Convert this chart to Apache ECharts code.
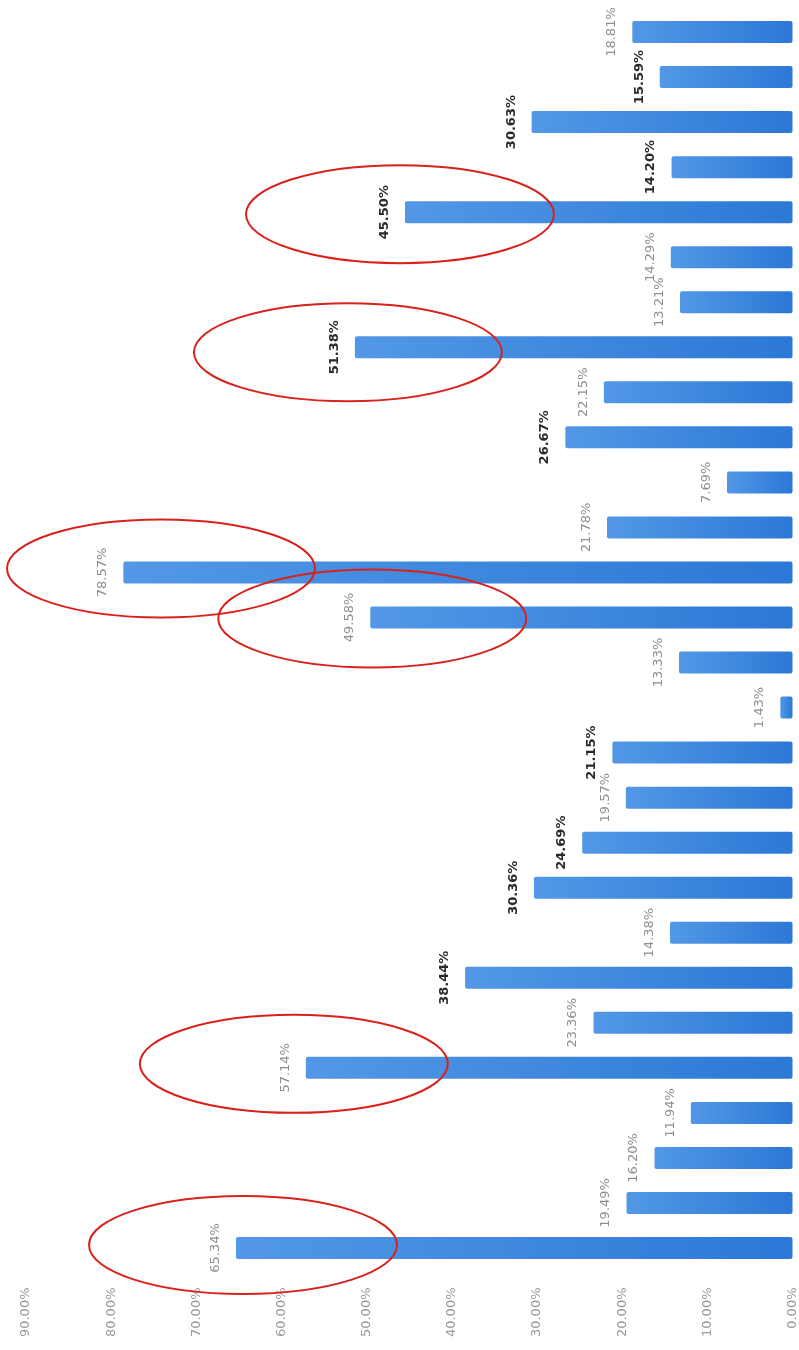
<!DOCTYPE html>
<html>
<head>
<meta charset="utf-8">
<script src="https://cdn.jsdelivr.net/npm/echarts@6/dist/echarts.min.js"></script>
<style>
html,body{margin:0;padding:0;background:#fff;}
#chart{width:799px;height:1350px;}
</style>
</head>
<body>
<div id="chart"></div>
<script>
// Data (first category at the bottom)
const categories = ['1','2','3','4','5','6','7','8','9','10','11','12','13','14','15','16','17','18','19','20','21','22','23','24','25','26','27','28'];
const values = [65.34, 19.49, 16.20, 11.94, 57.14, 23.36, 38.44, 14.38, 30.36, 24.69, 19.57, 21.15, 1.43, 13.33, 49.58, 78.57, 21.78, 7.69, 26.67, 22.15, 51.38, 13.21, 14.29, 45.50, 14.20, 30.63, 15.59, 18.81];
const axisTicks = [0, 10, 20, 30, 40, 50, 60, 70, 80, 90];
// categories whose labels print darker in the reference
const darkLabels = [6, 8, 9, 11, 18, 20, 23, 24, 25, 26];
// categories circled in red, with the hand-drawn offset of each ring (px)
const circled = [0, 4, 14, 15, 20, 23];
const ringShiftX = [7, -12, 2, 0, -7, -5];
const ringShiftY = [-3, -4, 1, -4, 5, 2];

const chart = echarts.init(document.getElementById('chart'), null, {renderer: 'canvas'});

const seriesData = values.map((v, i) => ({
  value: v,
  label: {color: darkLabels.includes(i) ? '#2a2a2a' : '#8f8f8f',
          fontWeight: darkLabels.includes(i) ? 'bold' : 'normal'}
}));

chart.setOption({
  backgroundColor: '#ffffff',
  animation: false,
  grid: {left: 26, right: 3, top: 9.5, bottom: 79.5, containLabel: false},
  xAxis: {
    type: 'value',
    inverse: true,
    min: axisTicks[0],
    max: axisTicks[axisTicks.length - 1],
    interval: 10,
    axisLine: {show: false},
    axisTick: {show: false},
    splitLine: {show: false},
    axisLabel: {
      rotate: 90,
      margin: 17,
      color: '#9a9a9a',
      fontSize: 13,
      fontFamily: 'DejaVu Sans',
      formatter: v => v.toFixed(2) + '%'
    }
  },
  yAxis: {
    type: 'category',
    data: categories,
    axisLine: {show: false},
    axisTick: {show: false},
    axisLabel: {show: false},
    splitLine: {show: false}
  },
  series: [{
    type: 'bar',
    data: seriesData,
    barWidth: 22,
    itemStyle: {
      borderRadius: 2,
      color: new echarts.graphic.LinearGradient(0, 0, 1, 0, [
        {offset: 0, color: '#5298e6'},
        {offset: 1, color: '#2c78d6'}
      ])
    },
    label: {
      show: true,
      position: 'left',
      distance: 14,
      rotate: 90,
      align: 'center',
      verticalAlign: 'bottom',
      fontSize: 13,
      fontFamily: 'DejaVu Sans',
      formatter: p => p.value.toFixed(2) + '%'
    }
  }]
});

// red hand-drawn style ellipses around selected labels
const rx = 154, ry = 49;
const graphics = circled.map((i, k) => {
  const p = chart.convertToPixel({gridIndex: 0}, [values[i], i]);
  const cx = Math.max(p[0] + ringShiftX[k], 7 + rx);
  return {
    type: 'ellipse',
    shape: {cx: cx, cy: p[1] + ringShiftY[k], rx: rx, ry: ry},
    style: {fill: 'none', stroke: '#d9211c', lineWidth: 2},
    z: 100
  };
});
chart.setOption({graphic: graphics});
</script>
</body>
</html>
